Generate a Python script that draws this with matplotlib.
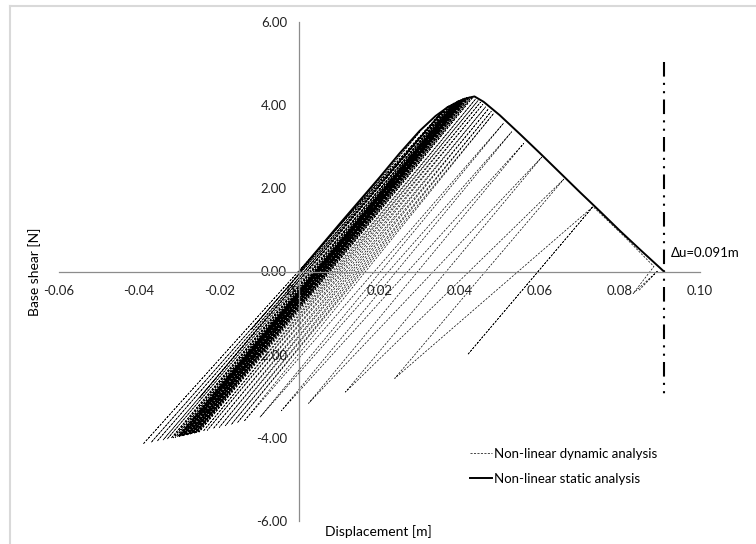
import matplotlib
matplotlib.use("Agg")
import matplotlib.pyplot as plt
from matplotlib.lines import Line2D

plt.rcParams["font.family"] = ["Lato", "DejaVu Sans"]

# non-linear static analysis (pushover curve)
static_x = [0.0, 0.005, 0.010, 0.015, 0.020, 0.025, 0.030, 0.034, 0.037, 0.040,
            0.042, 0.0437, 0.046, 0.050, 0.055, 0.060, 0.065, 0.070, 0.075,
            0.080, 0.085, 0.091]
static_f = [0.0, 0.57, 1.14, 1.70, 2.26, 2.84, 3.38, 3.74, 3.95, 4.10,
            4.17, 4.21, 4.08, 3.76, 3.31, 2.85, 2.38, 1.91, 1.45,
            0.98, 0.53, 0.0]

# non-linear dynamic analysis: turning points of the response path
dyn_x = [0.0,
         0.0200, -0.0120, 0.0300, -0.0250, 0.0350, -0.0390, 0.0360, -0.0370,
         0.0345, -0.0355, 0.0370, -0.0340, 0.0365, -0.0330, 0.0380, -0.0320,
         0.0375, -0.0315, 0.0385, -0.0310, 0.0390, -0.0305, 0.0388, -0.0300,
         0.0395, -0.0302, 0.0392, -0.0298, 0.0400, -0.0295, 0.0397, -0.0292,
         0.0402, -0.0290, 0.0405, -0.0288, 0.0399, -0.0285, 0.0408, -0.0283,
         0.0404, -0.0280, 0.0410, -0.0278, 0.0412, -0.0275, 0.0407, -0.0272,
         0.0415, -0.0270, 0.0418, -0.0268, 0.0413, -0.0265, 0.0420, -0.0262,
         0.0423, -0.0260, 0.0426, -0.0257, 0.0430, -0.0254, 0.0433, -0.0250,
         0.0440, -0.0240, 0.0446, -0.0230, 0.0452, -0.0215, 0.0458, -0.0200,
         0.0465, -0.0185, 0.0472, -0.0170, 0.0479, -0.0155, 0.0485, -0.0138,
         0.0510, -0.0098, 0.0530, -0.0045, 0.0560, 0.0023, 0.0605, 0.0115,
         0.0660, 0.0238, 0.0733, 0.0420, 0.0733, 0.0810, 0.0885, 0.0833,
         0.0895, 0.0848]
dyn_f = [0.0,
         2.25, -1.40, 3.35, -3.05, 3.78, -4.15, 3.88, -4.11,
         3.70, -4.08, 3.97, -4.05, 3.93, -4.03, 4.02, -4.01,
         4.00, -4.00, 4.05, -3.99, 4.07, -3.98, 4.06, -3.97,
         4.10, -3.97, 4.08, -3.96, 4.12, -3.96, 4.11, -3.95,
         4.13, -3.95, 4.14, -3.94, 4.11, -3.94, 4.15, -3.93,
         4.14, -3.93, 4.16, -3.92, 4.17, -3.91, 4.15, -3.91,
         4.18, -3.90, 4.19, -3.90, 4.17, -3.89, 4.20, -3.89,
         4.20, -3.88, 4.20, -3.87, 4.20, -3.87, 4.19, -3.86,
         4.15, -3.84, 4.11, -3.82, 4.07, -3.78, 4.02, -3.75,
         3.96, -3.71, 3.91, -3.68, 3.85, -3.64, 3.80, -3.60,
         3.57, -3.50, 3.36, -3.35, 3.08, -3.17, 2.75, -2.90,
         2.22, -2.57, 1.56, -2.00, 1.56, 0.85, 0.12, -0.53,
         0.02, -0.45]

du = 0.091
x_ticks = [-0.06, -0.04, -0.02, 0.00, 0.02, 0.04, 0.06, 0.08, 0.10]
y_ticks = [-6.0, -4.0, -2.0, 0.0, 2.0, 4.0, 6.0]

fig = plt.figure(figsize=(7.56, 5.44), dpi=100)
ax = fig.add_axes([59 / 756, 1 - 521 / 544, 641 / 756, 499 / 544])

ax.plot(dyn_x, dyn_f, color="black", lw=0.5, linestyle=(0, (3, 2)),
        label="Non-linear dynamic analysis")
ax.plot(static_x, static_f, color="black", lw=1.4,
        label="Non-linear static analysis")
ax.plot([du, du], [5.05, -3.05], color="black", lw=1.5,
        linestyle=(0, (7, 3, 1, 3, 1, 3)))
ax.text(du + 0.0017, 0.45, "\u0394u=0.091m", fontsize=9.5, va="center", ha="left")

ax.set_xlim(-0.06, 0.10)
ax.set_ylim(-6, 6)
ax.set_xticks(x_ticks)
ax.set_yticks(y_ticks)
ax.set_xticklabels([f"{v:.2f}" for v in x_ticks])
ax.set_yticklabels([f"{v:.2f}" for v in y_ticks])

for side in ["top", "right"]:
    ax.spines[side].set_visible(False)
ax.spines["left"].set_position(("data", 0))
ax.spines["bottom"].set_position(("data", 0))
for side in ["left", "bottom"]:
    ax.spines[side].set_color("#8c8c8c")
    ax.spines[side].set_linewidth(0.9)
ax.tick_params(axis="both", length=0, labelsize=9.5, colors="#222222")
ax.tick_params(axis="x", pad=10)
ax.tick_params(axis="y", pad=9)

fig.text(378 / 756, 1 - 532 / 544, "Displacement [m]", ha="center", va="center",
         fontsize=10)
fig.text(35 / 756, 0.5, "Base shear [N]", ha="center", va="center",
         rotation=90, fontsize=10)

ax.legend(loc="upper left", bbox_to_anchor=(470 / 756, 1 - 448 / 544),
          bbox_transform=fig.transFigure, frameon=False, fontsize=9.5,
          handlelength=1.7, handletextpad=0.15, labelspacing=0.95,
          borderpad=0, borderaxespad=0)

# chart area border
fig.add_artist(Line2D([10 / 756, 1], [1 - 6 / 544, 1 - 6 / 544],
                      color="#d9d9d9", lw=1.5, transform=fig.transFigure))
fig.add_artist(Line2D([10 / 756, 10 / 756], [0, 1 - 6 / 544],
                      color="#d9d9d9", lw=1.5, transform=fig.transFigure))

fig.savefig("out.png", dpi=100)
